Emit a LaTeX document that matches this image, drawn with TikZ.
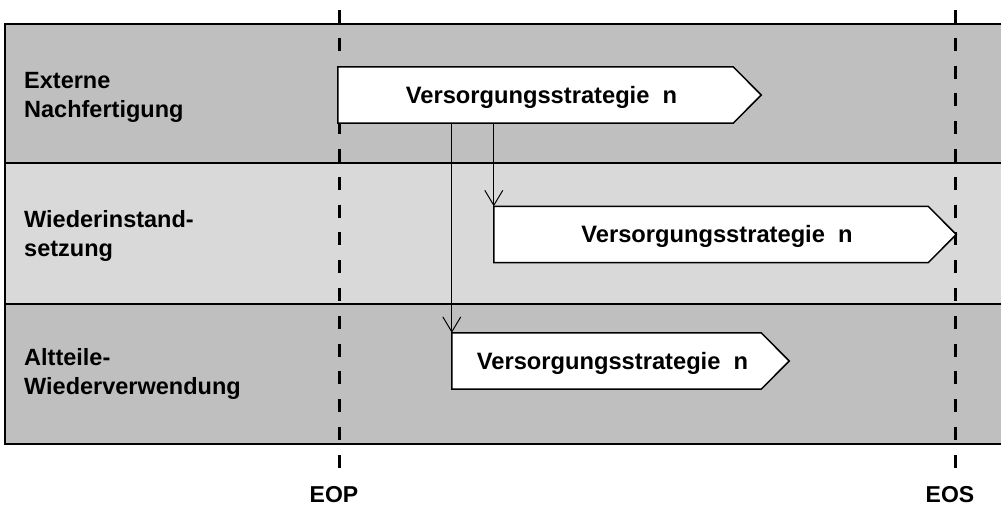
\documentclass[tikz,border=0pt]{standalone}
\usepackage{fontspec}
\setmainfont{Liberation Sans}
\usetikzlibrary{arrows.meta,calc}
\definecolor{laneDark}{gray}{0.75}
\definecolor{laneLight}{gray}{0.85}
\pgfdeclarelayer{lanes}
\pgfdeclarelayer{shapes}
\pgfsetlayers{lanes,shapes,main}

\begin{document}
\begin{tikzpicture}[x=1pt,y=1pt,
  lane/.style={fill=#1, draw=black, line width=1.8pt},
  lanelabel/.style={anchor=base west, inner sep=0pt,
    font=\fontsize{23.5}{29}\selectfont\bfseries},
  milestone/.style={draw=black, line width=3pt, dash pattern=on 13pt off 14.8pt},
  mslabel/.style={anchor=base, inner sep=0pt,
    font=\fontsize{23}{27}\selectfont\bfseries},
  strategy/.style={rectangle, inner sep=0pt, minimum height=56pt,
    text height=16.8pt, text depth=0pt,
    font=\fontsize{23.7}{28}\selectfont\bfseries},
  outline/.style={fill=white, draw=black, line width=1.5pt, line join=miter},
  flow/.style={draw=black, line width=1pt,
    -{Straight Barb[length=15pt, width=18pt, line width=1pt]}}
]
\useasboundingbox (0,0) rectangle (1001,506);
\clip (0,0) rectangle (1001,506);

% swim lanes, milestones and lane titles
\begin{pgfonlayer}{lanes}
  \draw[lane=laneDark]  (5,482) rectangle (1012,343);
  \draw[lane=laneLight] (5,343) rectangle (1012,202);
  \draw[lane=laneDark]  (5,202) rectangle (1012,62);

  \node[lanelabel] (l1) at (24,417) {\parbox[t]{300pt}{Externe\\Nachfertigung}};
  \node[lanelabel] (l2) at (24,278) {\parbox[t]{300pt}{Wiederinstand-\\setzung}};
  \node[lanelabel] (l3) at (24,140) {\parbox[t]{300pt}{Altteile-\\Wiederverwendung}};

  \coordinate (eopTop) at (339,496);
  \coordinate (eopBot) at (339,38);
  \coordinate (eosTop) at (955,496);
  \coordinate (eosBot) at (955,38);
  \draw[milestone] (eopTop) -- (eopBot);
  \draw[milestone] (eosTop) -- (eosBot);
  \node[mslabel] (eop) at (334,3.5) {EOP};
  \node[mslabel] (eos) at (950,3.5) {EOS};
\end{pgfonlayer}

% strategy boxes (text node; the arrow-shaped outline sits beneath it)
\node[strategy, minimum width=407pt] (s1) at (541.5,411) {Versorgungsstrategie\ \ n};
\node[strategy, minimum width=446pt] (s2) at (717,271.5) {Versorgungsstrategie\ \ n};
\node[strategy, minimum width=321pt] (s3) at (612.5,145) {Versorgungsstrategie\ \ n};

\begin{pgfonlayer}{shapes}
  \foreach \s in {s1,s2,s3}{
    \draw[outline] (\s.north west) -- ($(\s.north east)+(-12,0)$)
      -- ($(\s.east)+(16,0)$) -- ($(\s.south east)+(-12,0)$)
      -- (\s.south west) -- cycle;
  }
\end{pgfonlayer}

% hand-over arrows
\draw[flow] (s2.north west |- s1.south) -- (s2.north west);
\draw[flow] (s3.north west |- s1.south) -- (s3.north west);
\end{tikzpicture}
\end{document}
